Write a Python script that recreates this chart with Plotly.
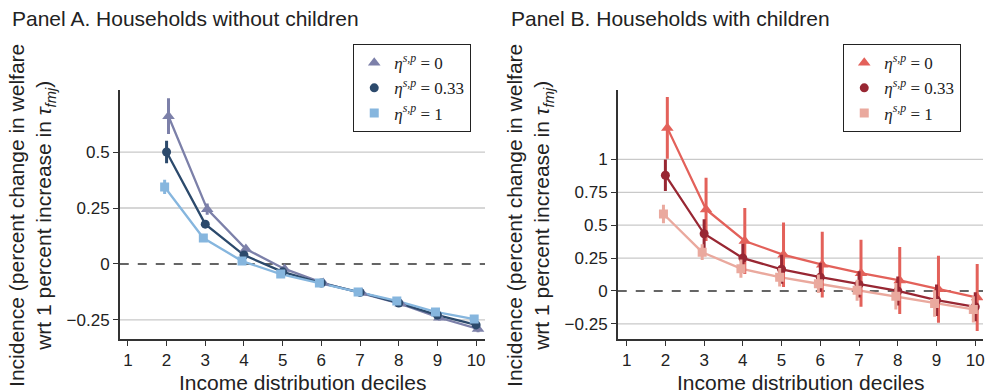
import plotly.graph_objects as go

# ---------------- data ----------------
deciles = [2, 3, 4, 5, 6, 7, 8, 9, 10]
x_ticks = [1, 2, 3, 4, 5, 6, 7, 8, 9, 10]

# Panel A: households without children
A_eta0 = [0.66, 0.245, 0.067, -0.022, -0.085, -0.13, -0.178, -0.24, -0.29]
A_eta0_err = [0.08, 0.025, 0.012, 0.01, 0.008, 0.008, 0.01, 0.012, 0.015]
A_eta033 = [0.50, 0.178, 0.04, -0.035, -0.085, -0.127, -0.174, -0.228, -0.272]
A_eta033_err = [0.05, 0.015, 0.01, 0.008, 0.008, 0.008, 0.008, 0.01, 0.012]
A_eta1 = [0.344, 0.116, 0.013, -0.045, -0.085, -0.125, -0.165, -0.214, -0.246]
A_eta1_err = [0.032, 0.01, 0.008, 0.006, 0.006, 0.006, 0.006, 0.008, 0.01]

# Panel B: households with children
B_eta0 = [1.24, 0.62, 0.38, 0.275, 0.2, 0.135, 0.08, 0.013, -0.05]
B_eta0_err = [0.235, 0.24, 0.25, 0.245, 0.25, 0.255, 0.255, 0.255, 0.255]
B_eta033 = [0.88, 0.435, 0.25, 0.165, 0.105, 0.05, 0.0, -0.07, -0.12]
B_eta033_err = [0.12, 0.11, 0.11, 0.11, 0.11, 0.1, 0.11, 0.12, 0.11]
B_eta1 = [0.585, 0.295, 0.17, 0.105, 0.055, 0.005, -0.04, -0.095, -0.14]
B_eta1_err = [0.07, 0.06, 0.07, 0.07, 0.07, 0.08, 0.1, 0.1, 0.1]

A_yticks = [-0.25, 0, 0.25, 0.5]
A_yticktext = ["\u22120.25", "0", "0.25", "0.5"]
B_yticks = [-0.25, 0, 0.25, 0.5, 0.75, 1]
B_yticktext = ["\u22120.25", "0", "0.25", "0.5", "0.75", "1"]

legend_labels = [
    "<i>\u03b7</i><sup><i>s,p</i></sup> = 0",
    "<i>\u03b7</i><sup><i>s,p</i></sup> = 0.33",
    "<i>\u03b7</i><sup><i>s,p</i></sup> = 1",
]

panel_titles = ["Panel A. Households without children", "Panel B. Households with children"]
x_title = "Income distribution deciles"
y_title = ("Incidence (percent change in welfare<br>"
           "wrt 1 percent increase in <i>\u03c4<sub>fmj</sub></i>)")

# ---------------- style ----------------
W, H = 988, 392
SANS = "Liberation Sans, Arial, Helvetica, sans-serif"
SERIF = "Liberation Serif, Times New Roman, serif"
AX = "#333333"

colorsA = ["#7c80a9", "#2c4a6c", "#86b6de"]
colorsB = ["#e3615a", "#982733", "#eaa99e"]
symbols = ["triangle-up", "circle", "square"]
msizes = [11, 9, 9]
offsets = [0.05, 0.0, -0.05]

def px_x(p):
    return p / W

def px_y(p):
    return 1 - p / H

domA = [px_x(120), px_x(486)]
domB = [px_x(619), px_x(985)]
domY = [px_y(339), px_y(90)]

fig = go.Figure()

def add_panel(series, errs, colors, xa, ya, legend):
    for i, (vals, err) in enumerate(zip(series, errs)):
        xs = [d + offsets[i] for d in deciles]
        fig.add_trace(go.Scatter(
            x=xs, y=vals, mode="lines", xaxis=xa, yaxis=ya,
            line=dict(color=colors[i], width=2.3), showlegend=False,
            hoverinfo="skip"))
    for i, (vals, err) in enumerate(zip(series, errs)):
        xs = [d + offsets[i] for d in deciles]
        fig.add_trace(go.Scatter(
            x=xs, y=vals, mode="markers", xaxis=xa, yaxis=ya,
            name=legend_labels[i], legend=legend,
            marker=dict(color=colors[i], symbol=symbols[i], size=msizes[i],
                        line=dict(width=0)),
            error_y=dict(type="data", array=err, visible=True,
                         color=colors[i], thickness=3, width=0)))

add_panel([A_eta0, A_eta033, A_eta1], [A_eta0_err, A_eta033_err, A_eta1_err],
          colorsA, "x", "y", "legend")
add_panel([B_eta0, B_eta033, B_eta1], [B_eta0_err, B_eta033_err, B_eta1_err],
          colorsB, "x2", "y2", "legend2")

xaxis_common = dict(
    tickvals=x_ticks, ticktext=[str(t) for t in x_ticks],
    showline=True, linecolor=AX, linewidth=1.5,
    ticks="outside", ticklen=5, tickwidth=1.2, tickcolor=AX,
    showgrid=False, zeroline=False,
    tickfont=dict(family=SANS, size=17, color="#222222"),
)
yaxis_common = dict(
    showline=True, linecolor=AX, linewidth=1.5,
    ticks="outside", ticklen=5, tickwidth=1.2, tickcolor=AX,
    showgrid=False, zeroline=False,
    tickfont=dict(family=SANS, size=17, color="#222222"),
)

legend_common = dict(yanchor="top", xanchor="right",
                     bordercolor="#222222", borderwidth=1.2, bgcolor="white",
                     font=dict(family=SERIF, size=17, color="#222222"),
                     tracegroupgap=0, itemwidth=30)

fig.update_layout(
    width=W, height=H,
    margin=dict(l=0, r=0, t=0, b=0),
    paper_bgcolor="white", plot_bgcolor="white",
    xaxis=dict(domain=domA, range=[0.79, 10.23], **xaxis_common),
    yaxis=dict(domain=domY, range=[-0.335, 0.777], tickvals=A_yticks,
               ticktext=A_yticktext, **yaxis_common),
    xaxis2=dict(domain=domB, range=[0.77, 10.2], anchor="y2", **xaxis_common),
    yaxis2=dict(domain=domY, range=[-0.365, 1.528], tickvals=B_yticks,
                ticktext=B_yticktext, anchor="x2", **yaxis_common),
    legend=dict(x=px_x(472), y=px_y(44), **legend_common),
    legend2=dict(x=px_x(963), y=px_y(44), **legend_common),
    showlegend=True,
)

# grid lines and dashed zero line
shapes = []
for yref, xref, ticks in [("y", "x", A_yticks), ("y2", "x2", B_yticks)]:
    for v in ticks:
        if v == 0:
            shapes.append(dict(type="line", xref=xref + " domain", yref=yref,
                               x0=0, x1=1, y0=v, y1=v, layer="below",
                               line=dict(color="#333333", width=1.3, dash="dash")))
        else:
            shapes.append(dict(type="line", xref=xref + " domain", yref=yref,
                               x0=0, x1=1, y0=v, y1=v, layer="below",
                               line=dict(color="#c9c9c9", width=1.3)))
fig.update_layout(shapes=shapes)

annotations = []
# panel titles
for t, xp in zip(panel_titles, [10, 510]):
    annotations.append(dict(text=t, xref="paper", yref="paper", x=px_x(xp), y=px_y(18),
                            xanchor="left", yanchor="middle", showarrow=False,
                            font=dict(family=SANS, size=21, color="#222222")))
# x titles
for dom in [domA, domB]:
    annotations.append(dict(text=x_title, xref="paper", yref="paper",
                            x=(dom[0] + dom[1]) / 2, y=px_y(382),
                            xanchor="center", yanchor="middle", showarrow=False,
                            font=dict(family=SANS, size=21, color="#222222")))
# y titles
for xc in [32, 531]:
    annotations.append(dict(text=y_title, xref="paper", yref="paper",
                            x=px_x(xc), y=px_y(215), textangle=-90,
                            xanchor="center", yanchor="middle", showarrow=False,
                            font=dict(family=SANS, size=21, color="#222222")))
fig.update_layout(annotations=annotations)

fig.write_html("out.html")
